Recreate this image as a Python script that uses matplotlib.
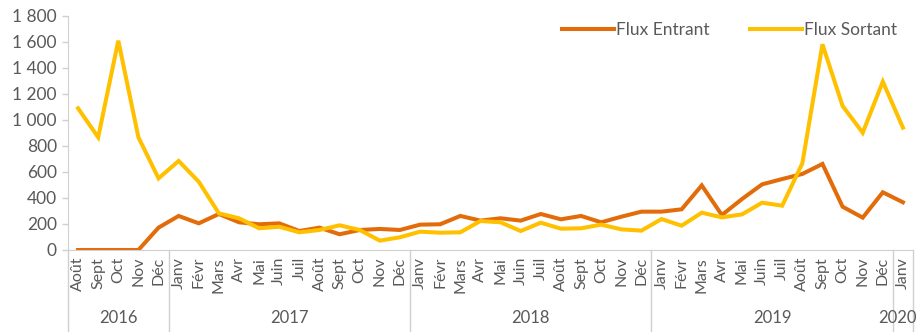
import matplotlib.pyplot as plt
import matplotlib.transforms as mtransforms
from matplotlib.ticker import FuncFormatter

plt.rcParams['font.family'] = ['Lato', 'DejaVu Sans']

months = ["Août", "Sept", "Oct", "Nov", "Déc",
          "Janv", "Févr", "Mars", "Avr", "Mai", "Juin", "Juil", "Août", "Sept", "Oct", "Nov", "Déc",
          "Janv", "Févr", "Mars", "Avr", "Mai", "Juin", "Juil", "Août", "Sept", "Oct", "Nov", "Déc",
          "Janv", "Févr", "Mars", "Avr", "Mai", "Juin", "Juil", "Août", "Sept", "Oct", "Nov", "Déc",
          "Janv"]
years = ["2016", "2017", "2018", "2019", "2020"]
year_counts = [5, 12, 12, 12, 1]

flux_entrant = [0, 0, 0, 0, 172,
                262, 205, 277, 213, 198, 205, 146, 172, 121, 154, 162, 154,
                195, 198, 262, 226, 244, 226, 277, 236, 262, 213, 256, 295,
                295, 313, 497, 269, 392, 505, 546, 585, 662, 333, 249, 444,
                367]
flux_sortant = [1090, 867, 1610, 867, 551,
                685, 525, 282, 244, 167, 179, 136, 154, 190, 154, 72, 98,
                141, 133, 136, 223, 213, 146, 210, 164, 167, 195, 159, 149,
                238, 187, 287, 251, 274, 364, 341, 667, 1582, 1108, 902, 1295,
                941]

text_col = "#595959"
grid_col = "#D0D0D0"

fig = plt.figure(figsize=(9.21, 3.32), dpi=100)
ax = fig.add_axes([68/921, 1 - 250/332, 845/921, 234/332])

x = list(range(len(months)))
ax.plot(x, flux_entrant, color="#E36C0A", lw=2.9, label="Flux Entrant", solid_joinstyle="miter")
ax.plot(x, flux_sortant, color="#FFC000", lw=2.9, label="Flux Sortant", solid_joinstyle="miter")

ax.set_xlim(-0.5, len(months) - 0.5)
ax.set_ylim(0, 1800)
ax.set_yticks(range(0, 1801, 200))
ax.yaxis.set_major_formatter(FuncFormatter(lambda v, p: f"{int(v):,}".replace(",", " ")))
ax.tick_params(axis="y", colors=grid_col, labelcolor=text_col, labelsize=12.5, length=4, width=1, pad=4)
ax.set_xticks(x)
ax.set_xticklabels(months, rotation=90, va="top", ha="center")
ax.tick_params(axis="x", length=0, pad=5, labelcolor=text_col, labelsize=11.5)

for s in ["top", "right"]:
    ax.spines[s].set_visible(False)
ax.spines["left"].set_color(grid_col)
ax.spines["bottom"].set_color(grid_col)

# year groups under the month labels
trans = mtransforms.blended_transform_factory(ax.transData, ax.transAxes)
start = -0.5
bounds = [start]
for yr, n in zip(years, year_counts):
    cx = start + n / 2
    if n == 1:
        cx -= 0.25  # single-month group sits against the right edge
    ax.text(cx, -0.29, yr, transform=trans, ha="center", va="center",
            fontsize=12, color=text_col)
    start += n
    bounds.append(start)
for b in bounds:
    ax.plot([b, b], [0, -0.36], transform=trans, color=grid_col, lw=1, clip_on=False)

ax.legend(loc="upper right", bbox_to_anchor=(1.0, 1.04), ncol=2, frameon=False,
          fontsize=12.5, labelcolor=text_col, handlelength=3.0, handletextpad=0.15,
          columnspacing=2.3)

fig.savefig("out.png", dpi=100)
